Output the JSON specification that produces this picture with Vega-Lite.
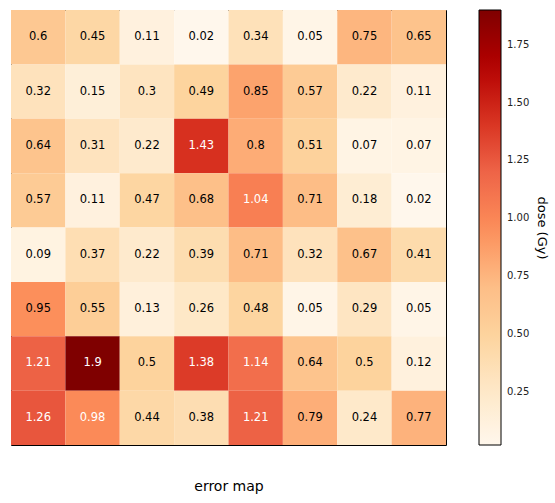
{
  "$schema": "https://vega.github.io/schema/vega-lite/v6.json",
  "width": 435,
  "height": 435,
  "autosize": {"type": "none"},
  "padding": {"left": 11, "top": 10, "right": 109, "bottom": 58},
  "config": {
    "font": "DejaVu Sans",
    "view": {"stroke": "#000000", "strokeWidth": 1},
    "axis": {"grid": false}
  },
  "data": {
    "values": [
      {"r": 0, "c": 0, "v": 0.6}, {"r": 0, "c": 1, "v": 0.45}, {"r": 0, "c": 2, "v": 0.11}, {"r": 0, "c": 3, "v": 0.02}, {"r": 0, "c": 4, "v": 0.34}, {"r": 0, "c": 5, "v": 0.05}, {"r": 0, "c": 6, "v": 0.75}, {"r": 0, "c": 7, "v": 0.65},
      {"r": 1, "c": 0, "v": 0.32}, {"r": 1, "c": 1, "v": 0.15}, {"r": 1, "c": 2, "v": 0.3}, {"r": 1, "c": 3, "v": 0.49}, {"r": 1, "c": 4, "v": 0.85}, {"r": 1, "c": 5, "v": 0.57}, {"r": 1, "c": 6, "v": 0.22}, {"r": 1, "c": 7, "v": 0.11},
      {"r": 2, "c": 0, "v": 0.64}, {"r": 2, "c": 1, "v": 0.31}, {"r": 2, "c": 2, "v": 0.22}, {"r": 2, "c": 3, "v": 1.43}, {"r": 2, "c": 4, "v": 0.8}, {"r": 2, "c": 5, "v": 0.51}, {"r": 2, "c": 6, "v": 0.07}, {"r": 2, "c": 7, "v": 0.07},
      {"r": 3, "c": 0, "v": 0.57}, {"r": 3, "c": 1, "v": 0.11}, {"r": 3, "c": 2, "v": 0.47}, {"r": 3, "c": 3, "v": 0.68}, {"r": 3, "c": 4, "v": 1.04}, {"r": 3, "c": 5, "v": 0.71}, {"r": 3, "c": 6, "v": 0.18}, {"r": 3, "c": 7, "v": 0.02},
      {"r": 4, "c": 0, "v": 0.09}, {"r": 4, "c": 1, "v": 0.37}, {"r": 4, "c": 2, "v": 0.22}, {"r": 4, "c": 3, "v": 0.39}, {"r": 4, "c": 4, "v": 0.71}, {"r": 4, "c": 5, "v": 0.32}, {"r": 4, "c": 6, "v": 0.67}, {"r": 4, "c": 7, "v": 0.41},
      {"r": 5, "c": 0, "v": 0.95}, {"r": 5, "c": 1, "v": 0.55}, {"r": 5, "c": 2, "v": 0.13}, {"r": 5, "c": 3, "v": 0.26}, {"r": 5, "c": 4, "v": 0.48}, {"r": 5, "c": 5, "v": 0.05}, {"r": 5, "c": 6, "v": 0.29}, {"r": 5, "c": 7, "v": 0.05},
      {"r": 6, "c": 0, "v": 1.21}, {"r": 6, "c": 1, "v": 1.9}, {"r": 6, "c": 2, "v": 0.5}, {"r": 6, "c": 3, "v": 1.38}, {"r": 6, "c": 4, "v": 1.14}, {"r": 6, "c": 5, "v": 0.64}, {"r": 6, "c": 6, "v": 0.5}, {"r": 6, "c": 7, "v": 0.12},
      {"r": 7, "c": 0, "v": 1.26}, {"r": 7, "c": 1, "v": 0.98}, {"r": 7, "c": 2, "v": 0.44}, {"r": 7, "c": 3, "v": 0.38}, {"r": 7, "c": 4, "v": 1.21}, {"r": 7, "c": 5, "v": 0.79}, {"r": 7, "c": 6, "v": 0.24}, {"r": 7, "c": 7, "v": 0.77}
    ]
  },
  "encoding": {
    "x": {
      "field": "c", "type": "ordinal",
      "scale": {"paddingInner": 0, "paddingOuter": 0},
      "axis": {"orient": "bottom", "labels": false, "ticks": false, "domain": false, "title": "error map", "titleFontSize": 14, "titleFontWeight": "normal", "titleColor": "#000000", "titlePadding": 34}
    },
    "y": {
      "field": "r", "type": "ordinal",
      "scale": {"paddingInner": 0, "paddingOuter": 0},
      "axis": {"orient": "right", "labels": false, "ticks": false, "domain": false, "title": "dose (Gy)", "titleAngle": 90, "titleFontSize": 13, "titleFontWeight": "normal", "titleColor": "#000000", "titlePadding": 88}
    }
  },
  "layer": [
    {
      "mark": {"type": "rect"},
      "encoding": {
        "color": {
          "field": "v", "type": "quantitative",
          "scale": {
            "domain": [0.02, 0.255, 0.49, 0.725, 0.96, 1.195, 1.43, 1.665, 1.9],
            "range": ["#fff7ec", "#fee8c8", "#fdd49e", "#fdbb84", "#fc8d59", "#ef6548", "#d7301f", "#b30000", "#7f0000"],
            "interpolate": "rgb"
          },
          "legend": {
            "orient": "none", "legendX": 468, "legendY": 0,
            "direction": "vertical", "title": null,
            "gradientLength": 435, "gradientThickness": 22,
            "gradientStrokeColor": "#000000", "gradientStrokeWidth": 1,
            "values": [0.25, 0.5, 0.75, 1.0, 1.25, 1.5, 1.75],
            "format": ".2f", "labelFontSize": 10, "labelColor": "#222222",
            "labelOffset": 6, "padding": 0, "labelOverlap": false
          }
        }
      }
    },
    {
      "mark": {"type": "text", "fontSize": 11.5},
      "encoding": {
        "text": {"field": "v", "type": "nominal"},
        "color": {
          "condition": {"test": "datum.v > 0.96", "value": "#ffffff"},
          "value": "#000000"
        }
      }
    }
  ]
}
